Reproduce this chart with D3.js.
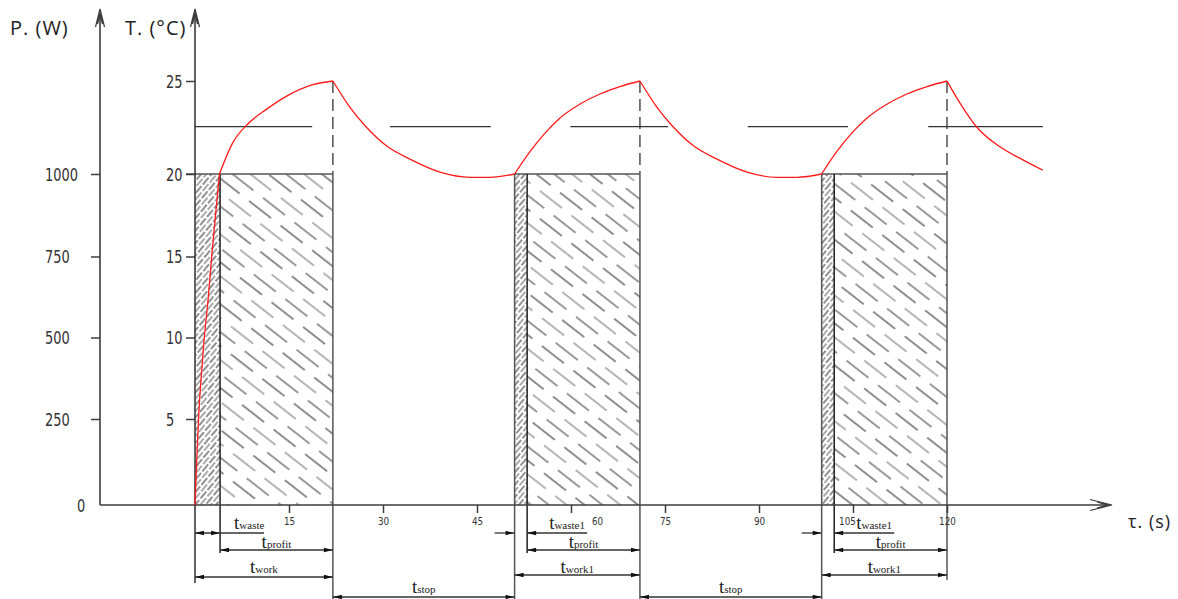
<!DOCTYPE html>
<html>
<head>
<meta charset="utf-8">
<script src="https://cdn.jsdelivr.net/npm/d3@7"></script>
<style>
    html, body { margin: 0; padding: 0; background: #fff; }
    svg { display: block; }
</style>
</head>
<body>
<svg id="chart" width="1178" height="599"></svg>
<script>
// values
var timeTicks = [15, 30, 45, 60, 75, 90, 105, 120];
var tempTicks = [5, 10, 15, 20, 25];
var powerTicks = [250, 500, 750, 1000];

// work cycles (s)
var workStart = [0, 51, 100];
var wasteEnd = [4, 53, 102];
var workEnd = [22, 71, 120];
var wasteNames = ["waste", "waste1", "waste1"];
var workNames = ["work", "work1", "work1"];
var blockPower = 1000;

// temperature curve
var curveTime = [0, 0.27, 0.6, 0.96, 1.44, 2.1, 2.76, 3.35, 3.9,
    6.06, 8.46, 11.5, 14.7, 18.8, 22,
    24.7, 27.4, 30.6, 34.3, 39.1, 43.9, 47.1, 51,
    53.45, 55.85, 58.2, 61.4, 64.6, 67.8, 71,
    73.7, 76.4, 79.6, 83.3, 88.1, 92.9, 96.1, 100,
    102.4, 104.8, 107.2, 110.4, 113.6, 116.8, 120,
    122.1, 124.8, 128.5, 131.6, 135.3];
var curveTemp = [0, 2.5, 5.3, 7.4, 9.8, 12.4, 15.4, 17.8, 20,
    21.7, 22.7, 23.5, 24.2, 24.8, 25,
    23.6, 22.5, 21.5, 20.8, 20.1, 19.8, 19.8, 20,
    21.2, 22.2, 23.0, 23.75, 24.3, 24.7, 25,
    23.6, 22.5, 21.5, 20.8, 20.1, 19.8, 19.8, 20,
    21.2, 22.2, 23.0, 23.75, 24.3, 24.7, 25,
    23.8, 22.5, 21.45, 20.85, 20.2];
var curveBreaks = [3.9, 22, 51, 71, 100, 120];

// long dashed set line
var setTemp = 22.55;
var setSegments = [[0, 18.7], [31.1, 47.2], [59.9, 75.5], [88.2, 104.2], [117, 135.3]];

var svg = d3.select("#chart");
var numFont = "'DejaVu Sans', sans-serif";
var numSqueeze = 0.72;
var titleFont = "'Open Sans', 'Noto Sans', sans-serif";
var serif = "'Liberation Serif', 'DejaVu Serif', serif";
var axisColor = "#3c3c3c";

var x = d3.scaleLinear()
    .domain([0, 120])
    .range([195, 947]);

var yT = d3.scaleLinear()
    .domain([0, 5, 10, 15, 20, 25])
    .range([505, 419, 337.5, 256.5, 174, 81]);

var yP = d3.scaleLinear()
    .domain([0, 250, 500, 750, 1000])
    .range([505, 419, 337.5, 256.5, 174]);

var pAxisX = 100, tAxisX = x(0), baseY = yT(0);

//Hatch patterns
var defs = svg.append("defs");

var pProfit = defs.append("pattern")
    .attr("id", "hatchProfit")
    .attr("patternUnits", "userSpaceOnUse")
    .attr("width", 120)
    .attr("height", 33)
    .attr("patternTransform", "rotate(38)");
[[5, "#1e1e1e", 0], [16, "#6a6a6a", 17], [27, "#333", 31]].forEach(function(d) {
    pProfit.append("line")
        .attr("x1", 0).attr("x2", 120)
        .attr("y1", d[0]).attr("y2", d[0])
        .attr("stroke", d[1])
        .attr("stroke-width", 1)
        .attr("stroke-dasharray", "28 12")
        .attr("stroke-dashoffset", d[2]);
});

var pWaste = defs.append("pattern")
    .attr("id", "hatchWaste")
    .attr("patternUnits", "userSpaceOnUse")
    .attr("width", 33)
    .attr("height", 8)
    .attr("patternTransform", "rotate(-50)");
[[2, "#222", 0], [6, "#555", 5]].forEach(function(d) {
    pWaste.append("line")
        .attr("x1", 0).attr("x2", 33)
        .attr("y1", d[0]).attr("y2", d[0])
        .attr("stroke", d[1])
        .attr("stroke-width", 1)
        .attr("stroke-dasharray", "9 2")
        .attr("stroke-dashoffset", d[2]);
});

//Power blocks
var blocks = svg.append("g");
workStart.forEach(function(s, i) {
    blocks.append("rect")
        .attr("x", x(s))
        .attr("y", yP(blockPower))
        .attr("width", x(wasteEnd[i]) - x(s))
        .attr("height", yP(0) - yP(blockPower))
        .attr("fill", "url(#hatchWaste)");
    blocks.append("rect")
        .attr("x", x(wasteEnd[i]))
        .attr("y", yP(blockPower))
        .attr("width", x(workEnd[i]) - x(wasteEnd[i]))
        .attr("height", yP(0) - yP(blockPower))
        .attr("fill", "url(#hatchProfit)");
    // top edge
    blocks.append("line")
        .attr("x1", i === 0 ? tAxisX - 9 : x(s)).attr("x2", x(workEnd[i]))
        .attr("y1", yP(blockPower)).attr("y2", yP(blockPower))
        .attr("stroke", "#555").attr("stroke-width", 1.6);
    // left edge
    if (i > 0) {
        blocks.append("line")
            .attr("x1", x(s)).attr("x2", x(s))
            .attr("y1", yP(blockPower)).attr("y2", 599)
            .attr("stroke", "#555").attr("stroke-width", 1.5);
    }
    // waste / profit divider
    blocks.append("line")
        .attr("x1", x(wasteEnd[i])).attr("x2", x(wasteEnd[i]))
        .attr("y1", yP(blockPower)).attr("y2", 553)
        .attr("stroke", "#111").attr("stroke-width", 1.4);
    // right edge
    blocks.append("line")
        .attr("x1", x(workEnd[i])).attr("x2", x(workEnd[i]))
        .attr("y1", yP(blockPower)).attr("y2", i === 2 ? 580 : 599)
        .attr("stroke", "#555").attr("stroke-width", 1.5);
    // dashed line up to the peak
    blocks.append("line")
        .attr("x1", x(workEnd[i])).attr("x2", x(workEnd[i]))
        .attr("y1", yT(25)).attr("y2", yP(blockPower))
        .attr("stroke", "#444").attr("stroke-width", 1.4)
        .attr("stroke-dasharray", "12 6");
});

//Set temperature line
svg.append("g").selectAll("line")
    .data(setSegments)
    .enter()
    .append("line")
    .attr("x1", function(d) { return x(d[0]); })
    .attr("x2", function(d) { return x(d[1]); })
    .attr("y1", yT(setTemp))
    .attr("y2", yT(setTemp))
    .attr("stroke", "#333")
    .attr("stroke-width", 1.2);

//Axes lines
var axes = svg.append("g")
    .attr("stroke", axisColor)
    .attr("stroke-width", 1.6)
    .attr("fill", "none");
axes.append("line")
    .attr("x1", pAxisX).attr("x2", pAxisX)
    .attr("y1", 10).attr("y2", baseY);
axes.append("line")
    .attr("x1", tAxisX).attr("x2", tAxisX)
    .attr("y1", 10).attr("y2", 583);
axes.append("line")
    .attr("x1", pAxisX).attr("x2", 1110)
    .attr("y1", baseY).attr("y2", baseY);

function upArrow(cx) {
    axes.append("path")
        .attr("stroke-width", 1.2)
        .attr("d", "M" + (cx - 4.5) + ",27L" + cx + ",9L" + (cx + 4.5) + ",27"
            + "M" + (cx - 2.5) + ",24L" + cx + ",14L" + (cx + 2.5) + ",24");
}
upArrow(pAxisX);
upArrow(tAxisX);
axes.append("path")
    .attr("stroke-width", 1.2)
    .attr("d", "M1090," + (baseY - 5.5) + "L1112," + baseY + "L1090," + (baseY + 5.5)
        + "M1097," + (baseY - 3) + "L1107," + baseY + "L1097," + (baseY + 3));

//Tick axes
function styleAxis(g) {
    g.select(".domain").remove();
    g.selectAll(".tick line").attr("stroke", axisColor).attr("stroke-width", 1.5);
    g.selectAll(".tick text").attr("fill", "#333").attr("font-family", numFont);
}

// narrow digits: squeeze horizontally around the label's left edge
function leftLabels(g, left) {
    g.selectAll(".tick text")
        .attr("font-size", 18)
        .attr("text-anchor", "start")
        .attr("x", left / numSqueeze)
        .attr("dy", "0.36em")
        .attr("transform", "scale(" + numSqueeze + ",1)");
}

svg.append("g")
    .attr("transform", "translate(" + pAxisX + ",0)")
    .call(d3.axisLeft(yP).tickValues(powerTicks).tickSize(9).tickFormat(d3.format("d")))
    .call(styleAxis)
    .call(function(g) { leftLabels(g, -55); });

svg.append("g")
    .attr("transform", "translate(" + tAxisX + ",0)")
    .call(d3.axisLeft(yT).tickValues(tempTicks).tickSize(9).tickFormat(d3.format("d")))
    .call(styleAxis)
    .call(function(g) { leftLabels(g, -29); });

svg.append("text")
    .attr("transform", "translate(77," + (baseY + 7) + ") scale(" + numSqueeze + ",1)")
    .attr("font-family", numFont)
    .attr("font-size", 18)
    .attr("fill", "#333")
    .text("0");

var labelShift = {60: 26, 105: -6};
svg.append("g")
    .attr("transform", "translate(0," + baseY + ")")
    .call(d3.axisBottom(x).tickValues(timeTicks).tickSize(8).tickFormat(d3.format("d")))
    .call(styleAxis)
    .call(function(g) {
        g.selectAll(".tick text")
            .attr("font-size", 11)
            .attr("y", 12)
            .attr("x", function(d) { return (labelShift[d] || 0) / 0.8; })
            .attr("transform", "scale(0.8,1)");
    });

//Axis titles
svg.append("text")
    .attr("x", 10).attr("y", 35)
    .attr("font-family", titleFont).attr("font-size", 20)
    .attr("letter-spacing", 1).attr("fill", "#222")
    .text("P. (W)");
svg.append("text")
    .attr("x", 125).attr("y", 35)
    .attr("font-family", titleFont).attr("font-size", 20)
    .attr("letter-spacing", 1).attr("fill", "#222")
    .text("T. (°C)");
svg.append("text")
    .attr("x", 1128).attr("y", 528)
    .attr("font-family", titleFont).attr("font-size", 18)
    .attr("letter-spacing", 1).attr("fill", "#222")
    .text("τ. (s)");

//Temperature curve, split where the slope breaks
var pts = curveTime.map(function(t, i) { return [t, curveTemp[i]]; });
var segments = [], cur = [];
pts.forEach(function(p) {
    cur.push(p);
    if (curveBreaks.indexOf(p[0]) >= 0) {
        segments.push(cur);
        cur = [p];
    }
});
if (cur.length > 1) segments.push(cur);

var line = d3.line()
    .x(function(d) { return x(d[0]); })
    .y(function(d) { return yT(d[1]); })
    .curve(d3.curveMonotoneX);

svg.append("g").selectAll("path")
    .data(segments)
    .enter()
    .append("path")
    .attr("d", line)
    .attr("fill", "none")
    .attr("stroke", "#ff1a1a")
    .attr("stroke-width", 1.3);

//Dimension lines below the axis
var dims = svg.append("g");
var rowWaste = 533, rowProfit = 550, rowWork = 577, rowStop = 597;

function arrowHead(xTip, y, dir) {
    dims.append("path")
        .attr("d", "M" + xTip + "," + y + "L" + (xTip - dir * 9) + "," + (y - 2.2)
            + "L" + (xTip - dir * 9) + "," + (y + 2.2) + "Z")
        .attr("fill", "#111");
}
function dimLine(x1, x2, y) {
    dims.append("line")
        .attr("x1", x1).attr("x2", x2)
        .attr("y1", y).attr("y2", y)
        .attr("stroke", "#333").attr("stroke-width", 1.3);
}
function tLabel(xPos, y, sub, anchor) {
    var t = dims.append("text")
        .attr("x", xPos).attr("y", y)
        .attr("text-anchor", anchor)
        .attr("font-family", serif)
        .attr("fill", "#222");
    t.append("tspan").attr("font-size", 19).text("t");
    t.append("tspan").attr("font-size", 11).text(sub);
}

workStart.forEach(function(s, i) {
    var xs = x(s), xw = x(wasteEnd[i]), xe = x(workEnd[i]);
    // waste
    if (i === 0) {
        dimLine(xs, xw + 44, rowWaste);
        arrowHead(xs, rowWaste, -1);
        arrowHead(xw, rowWaste, 1);
        tLabel(xw + 14, rowWaste - 4, wasteNames[i], "start");
    } else {
        dimLine(xs - 20, xs, rowWaste);
        arrowHead(xs, rowWaste, 1);
        dimLine(xw, xw + 60, rowWaste);
        arrowHead(xw, rowWaste, -1);
        tLabel(xw + 22, rowWaste - 4, wasteNames[i], "start");
    }
    // profit
    dimLine(xw, xe, rowProfit);
    arrowHead(xw, rowProfit, -1);
    arrowHead(xe, rowProfit, 1);
    tLabel((xw + xe) / 2, rowProfit - 2, "profit", "middle");
    // work
    dimLine(xs, xe, rowWork - (i > 0 ? 2 : 0));
    arrowHead(xs, rowWork - (i > 0 ? 2 : 0), -1);
    arrowHead(xe, rowWork - (i > 0 ? 2 : 0), 1);
    tLabel((xs + xe) / 2, rowWork - 4, workNames[i], "middle");
    // stop
    if (i < workStart.length - 1) {
        var xn = x(workStart[i + 1]);
        dimLine(xe, xn, rowStop);
        arrowHead(xe, rowStop, -1);
        arrowHead(xn, rowStop, 1);
        tLabel((xe + xn) / 2, rowStop - 4, "stop", "middle");
    }
});
</script>
</body>
</html>
